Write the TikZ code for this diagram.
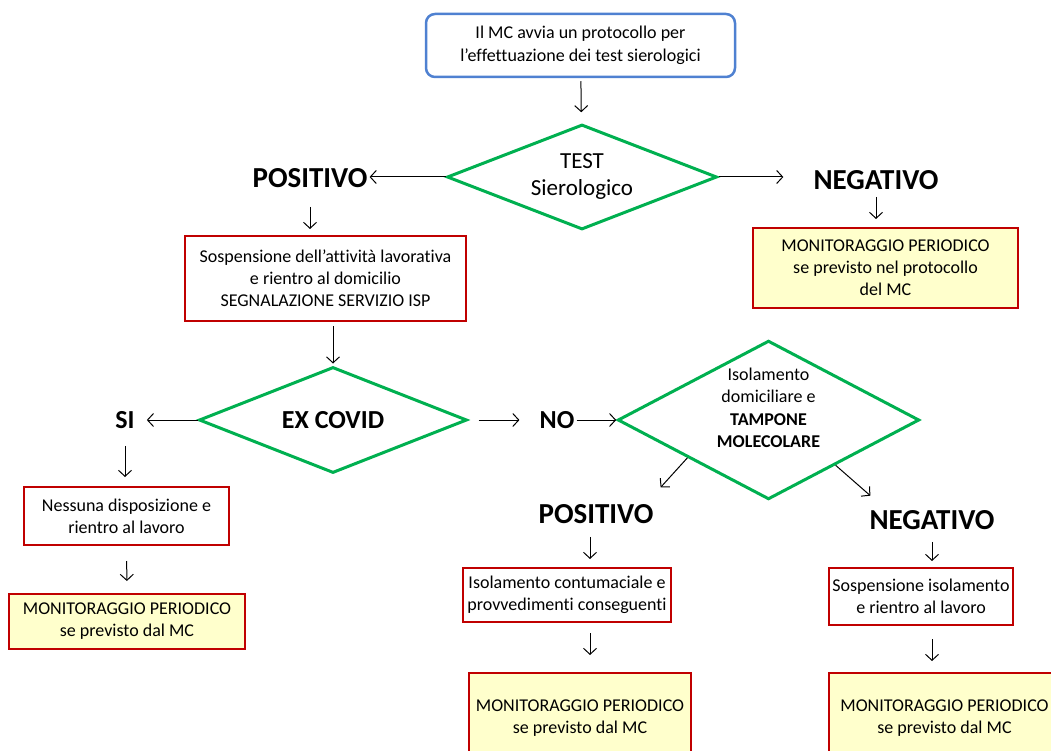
\documentclass[tikz,border=0pt]{standalone}
\usepackage{fontspec}
\setmainfont{Carlito}[Ligatures={NoCommon}]
\usepackage{xcolor}
\usepackage{tikz}
\usetikzlibrary{arrows.meta, positioning, shapes.geometric}

\definecolor{startblue}{RGB}{79,129,209}
\definecolor{testgreen}{RGB}{0,176,80}
\definecolor{boxred}{RGB}{192,0,0}
\definecolor{monyellow}{RGB}{255,255,204}

\begin{document}
\begin{tikzpicture}[
    x=1pt, y=-1pt,
    startbox/.style={rectangle, draw=startblue, line width=2.5pt, rounded corners=9pt, align=center, font=\fontsize{18}{23}\selectfont},
    decision/.style={diamond, draw=testgreen, line width=3pt, inner sep=0pt, align=center},
    block/.style={rectangle, draw=boxred, line width=2pt, align=center, font=\fontsize{18}{22}\selectfont},
    monitor/.style={block, fill=monyellow},
    outcome/.style={font=\bfseries\fontsize{29}{32}\selectfont, inner sep=2pt},
    arrow/.style={line width=1pt, -{Straight Barb[length=6pt,width=13pt]}},
]
    \useasboundingbox (0,0) rectangle (1051,751);

    % Start and first test
    \node[startbox, minimum width=309pt, minimum height=63pt] (start) at (580.5,45.5) {Il MC avvia un protocollo per\\l'effettuazione dei test sierologici};
    \node[decision, aspect=2.57, minimum width=270pt, minimum height=105pt, font=\fontsize{23}{27}\selectfont] (test) at (582,177) {TEST\\Sierologico};
    \node[outcome] (pos) at (310,178) {POSITIVO};
    \node[outcome] (neg) at (876,180) {NEGATIVO};

    \node[block, minimum width=281pt, minimum height=85pt] (susp) at (325.5,278.5) {Sospensione dell'attività lavorativa\\e rientro al domicilio\\SEGNALAZIONE SERVIZIO ISP};
    \node[monitor, minimum width=265pt, minimum height=80pt] (monneg) at (885.5,268) {MONITORAGGIO PERIODICO\\se previsto nel protocollo\\del MC};

    % Ex covid branch
    \node[decision, aspect=2.5, minimum width=268pt, minimum height=106pt, font=\bfseries\fontsize{26}{30}\selectfont] (excovid) at (333,420) {EX COVID};
    \node[outcome, font=\bfseries\fontsize{26}{30}\selectfont] (si) at (125,420) {SI};
    \node[outcome, font=\bfseries\fontsize{26}{30}\selectfont] (no) at (557,420) {NO};
    \node[decision, aspect=1.9, minimum width=293pt, minimum height=154pt, font=\fontsize{18}{22.5}\selectfont] (tampone) at (768.5,420) {Isolamento\\domiciliare e\\\textbf{TAMPONE}\\\textbf{MOLECOLARE}\\[2pt]};

    \node[block, minimum width=205pt, minimum height=58pt] (nessuna) at (126.5,516) {Nessuna disposizione e\\rientro al lavoro};
    \node[monitor, minimum width=236pt, minimum height=55pt] (monsi) at (127,621.5) {MONITORAGGIO PERIODICO\\se previsto dal MC};

    % Tampone results
    \node[outcome] (pos2) at (596,514) {POSITIVO};
    \node[outcome] (neg2) at (932,520) {NEGATIVO};
    \node[block, minimum width=208pt, minimum height=54pt] (contum) at (567,595) {Isolamento contumaciale e\\provvedimenti conseguenti};
    \node[block, minimum width=184pt, minimum height=57pt] (sospiso) at (921,596.5) {Sospensione isolamento\\e rientro al lavoro};
    \node[monitor, minimum width=222pt, minimum height=90pt] (monpos) at (580,718) {MONITORAGGIO PERIODICO\\se previsto dal MC};
    \node[monitor, minimum width=231pt, minimum height=90pt] (monneg2) at (944.5,718) {MONITORAGGIO PERIODICO\\se previsto dal MC};

    % Connect everything
    \draw[arrow, shorten <=3pt, shorten >=11pt] (start) -- (test);
    \draw[arrow] (test.west) -- (test.west -| pos.east);
    \draw[arrow, shorten >=28pt] (test.east) -- (test.east -| neg.west);
    \draw[arrow, shorten <=17pt, shorten >=6pt] (pos.south) -- (pos.south |- susp.north);
    \draw[arrow, shorten <=5pt, shorten >=8pt] (neg.south) -- (neg.south |- monneg.north);
    \draw[arrow, shorten <=4pt, shorten >=2pt] (susp.south -| excovid) -- (excovid.north);
    \draw[arrow, shorten >=10pt] (excovid.west) -- (si.east);
    \draw[arrow, shorten <=10pt, shorten >=18pt] (excovid.east) -- (no.west);
    \draw[arrow] (no.east) -- (tampone.west);
    \draw[arrow, shorten <=15pt, shorten >=9pt] (si.south) -- (si.south |- nessuna.north);
    \draw[arrow, shorten <=15pt, shorten >=12pt] (nessuna.south) -- (monsi.north);
    \draw[arrow, shorten >=20pt] (tampone.205) -- (pos2.13);
    \draw[arrow, shorten >=19pt] (tampone.326) -- (neg2.166);
    \draw[arrow, shorten <=11pt, shorten >=8pt] (pos2.south -| 590,0) -- (contum.north -| 590,0);
    \draw[arrow, shorten <=10pt, shorten >=17pt] (contum.south -| 590,0) -- (monpos.north -| 590,0);
    \draw[arrow, shorten <=10pt, shorten >=6pt] (neg2.south) -- (neg2.south |- sospiso.north);
    \draw[arrow, shorten <=13pt, shorten >=11pt] (sospiso.south -| neg2) -- (monneg2.north -| neg2);
\end{tikzpicture}
\end{document}
